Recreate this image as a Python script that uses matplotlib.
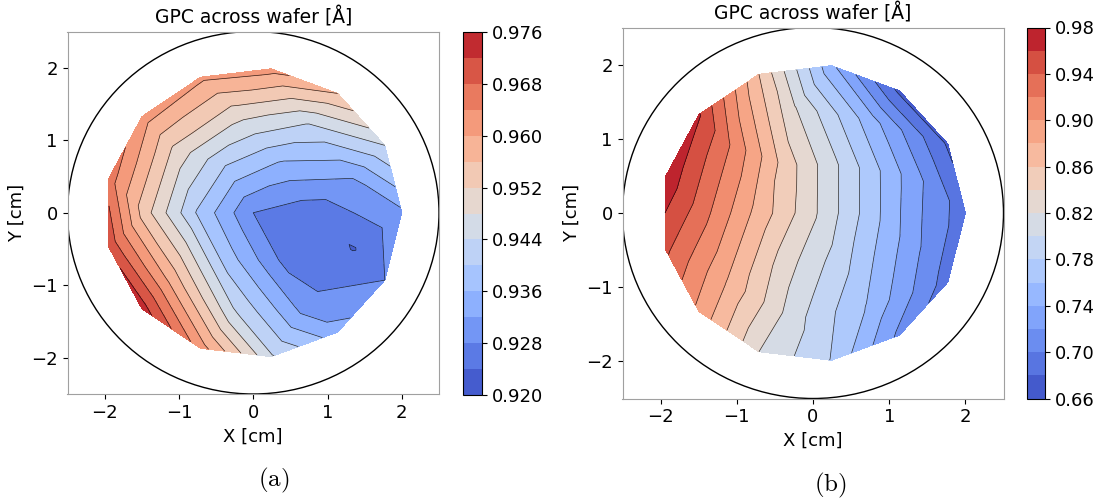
import numpy as np
import matplotlib
matplotlib.use("Agg")
import matplotlib.pyplot as plt
import matplotlib.tri as mtri
from matplotlib.patches import Circle

plt.rcParams["font.size"] = 13
plt.rcParams["mathtext.fontset"] = "cm"

# Measurement sites: concentric rings on the wafer (radius in cm, angles in degrees)
ring_radii = [0.0, 0.75, 1.45, 2.0]
ring_angles = [
    [0.0],
    [0, 60, 120, 180, 240, 300],
    [-20, 20, 60, 100, 140, 180, 220, 260, 300],
    [i * 360.0 / 13 for i in range(13)],
]

# GPC per site (Å/cycle), listed ring by ring in the same order as the angles
gpc_a_center = [0.928]
gpc_a_ring1 = [0.9255, 0.935, 0.940, 0.9395, 0.9385, 0.9275]
gpc_a_ring2 = [0.9238, 0.9323, 0.9445, 0.951, 0.9525, 0.9535, 0.959, 0.945, 0.9292]
gpc_a_ring3 = [0.931, 0.944, 0.956, 0.9615, 0.961, 0.962, 0.966, 0.971, 0.974,
               0.962, 0.9445, 0.9335, 0.928]

gpc_b_center = [0.824]
gpc_b_ring1 = [0.770, 0.797, 0.852, 0.875, 0.830, 0.788]
gpc_b_ring2 = [0.723, 0.725, 0.751, 0.822, 0.922, 0.928, 0.878, 0.808, 0.758]
gpc_b_ring3 = [0.688, 0.677, 0.675, 0.745, 0.860, 0.962, 0.975, 0.945, 0.895,
               0.820, 0.779, 0.715, 0.690]

levels_a = np.linspace(0.920, 0.976, 15)
ticks_a = [0.920, 0.928, 0.936, 0.944, 0.952, 0.960, 0.968, 0.976]
levels_b = np.linspace(0.66, 0.98, 17)
ticks_b = [0.66, 0.70, 0.74, 0.78, 0.82, 0.86, 0.90, 0.94, 0.98]


def site_xy():
    xs, ys = [], []
    for r, angs in zip(ring_radii, ring_angles):
        for a in angs:
            xs.append(r * np.cos(np.radians(a)))
            ys.append(r * np.sin(np.radians(a)))
    return np.array(xs), np.array(ys)


def draw_map(fig, ax_rect, cb_rect, values, levels, ticks, fmt):
    ax = fig.add_axes(ax_rect)
    cax = fig.add_axes(cb_rect)
    x, y = site_xy()
    tri = mtri.Triangulation(x, y)
    cf = ax.tricontourf(tri, values, levels=levels, cmap="coolwarm")
    ax.tricontour(tri, values, levels=levels, colors="k", linewidths=0.5, alpha=0.8)
    ax.add_patch(Circle((0, 0), 2.5, fill=False, edgecolor="k", lw=1.0))
    ax.set_xlim(-2.5, 2.5)
    ax.set_ylim(-2.5, 2.5)
    ax.set_xticks([-2, -1, 0, 1, 2])
    ax.set_yticks([-2, -1, 0, 1, 2])
    ax.set_xlabel("X [cm]")
    ax.set_ylabel("Y [cm]")
    ax.set_title("GPC across wafer [Å]", fontsize=13.5)
    for s in ax.spines.values():
        s.set_color("#a0a0a0")
    cb = fig.colorbar(cf, cax=cax, ticks=ticks)
    cb.ax.yaxis.set_major_formatter(matplotlib.ticker.FormatStrFormatter(fmt))
    cb.outline.set_linewidth(0.8)
    return ax


W, H = 1100, 500
fig = plt.figure(figsize=(W / 100, H / 100), dpi=100)


def rect(x0, y0, x1, y1):
    return [x0 / W, 1 - y1 / H, (x1 - x0) / W, (y1 - y0) / H]


vals_a = np.array(gpc_a_center + gpc_a_ring1 + gpc_a_ring2 + gpc_a_ring3)
vals_b = np.array(gpc_b_center + gpc_b_ring1 + gpc_b_ring2 + gpc_b_ring3)

draw_map(fig, rect(67.5, 31.5, 439, 394), rect(463, 32, 482, 395),
         vals_a, levels_a, ticks_a, "%.3f")
draw_map(fig, rect(622.5, 27.5, 1003.5, 398.5), rect(1027, 27.5, 1045, 398.5),
         vals_b, levels_b, ticks_b, "%.2f")

fig.text(274 / W, 1 - 480 / H, r"$\mathrm{(a)}$", ha="center", va="center", fontsize=18)
fig.text(830 / W, 1 - 485 / H, r"$\mathrm{(b)}$", ha="center", va="center", fontsize=18)

fig.savefig("out.png", dpi=100)
